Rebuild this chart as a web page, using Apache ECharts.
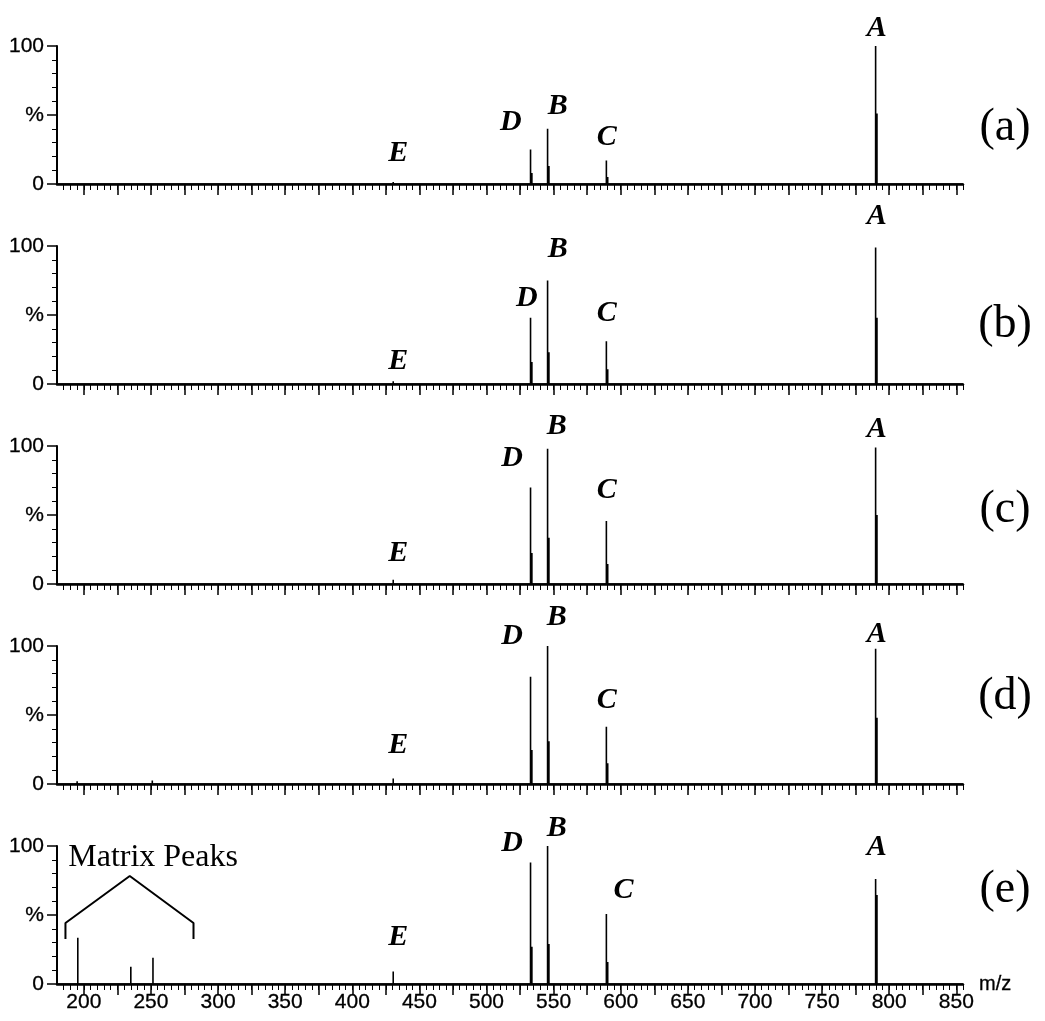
<!DOCTYPE html>
<html>
<head>
<meta charset="utf-8">
<script src="https://cdn.jsdelivr.net/npm/echarts@6/dist/echarts.min.js"></script>
<style>
html,body{margin:0;padding:0;background:#fff;}
#chart{width:1045px;height:1021px;}
</style>
</head>
<body>
<div id="chart"></div>
<script>
// ---- data (m/z, relative intensity %) ----
const panelNames = ['(a)', '(b)', '(c)', '(d)', '(e)'];
const mzMin = 180, mzMax = 855;
const majorTicks = [200,225,250,275,300,325,350,375,400,425,450,475,500,525,550,575,600,625,650,675,700,725,750,775,800,825,850];
const tickLabels = [200,250,300,350,400,450,500,550,600,650,700,750,800,850];
const yTickLabels = {0: '0', 50: '%', 100: '100'};

const peaksA = [[430.5,1.5],[532.8,25],[533.8,8],[545.5,40],[546.5,13],[589.3,17],[590.3,5],[789.9,100],[790.9,51]];
const peaksB = [[430.5,2],[532.8,48],[533.8,16],[545.5,75],[546.5,23],[589.3,31],[590.3,10.6],[789.9,99],[790.9,48]];
const peaksC = [[430.5,3],[532.8,70],[533.8,22.5],[545.5,98],[546.5,33.6],[589.3,45.7],[590.3,14.5],[789.9,99],[790.9,50]];
const peaksD = [[195,2],[251,2.5],[430.5,4],[532.8,77.8],[533.8,24.6],[545.5,100],[546.5,31],[589.3,41.5],[590.3,15],[789.9,98],[790.9,48]];
const peaksE = [[195.5,33.5],[235,12.5],[251.5,19],[430.5,9],[532.8,88],[533.8,27],[545.5,100],[546.5,29],[589.3,50.7],[590.3,16],[789.9,76],[790.9,64.5]];
const allPeaks = [peaksA, peaksB, peaksC, peaksD, peaksE];

// peak letter labels: [name, m/z, intensity position]
const labelsA = [['A',790.8,113],['B',553.1,56.5],['D',518.2,45],['C',589.5,34],['E',434.2,22.5]];
const labelsB = [['A',790.8,121.7],['B',553.1,97.8],['D',530.1,62.3],['C',589.5,51.4],['E',434.2,16.7]];
const labelsC = [['A',790.8,112.3],['B',552.4,114.5],['D',519,91.3],['C',589.5,68.1],['E',434.2,22.5]];
const labelsD = [['A',790.8,108.7],['B',552.4,121],['D',519,107.2],['C',589.5,60.9],['E',434.2,28.3]];
const labelsE = [['A',790.8,99.3],['B',552.4,113],['D',519,102.2],['C',602.1,68.1],['E',434.2,34.1]];
const allLabels = [labelsA, labelsB, labelsC, labelsD, labelsE];

// matrix peaks annotation (panel e)
const matrixText = ['Matrix Peaks', 251.6, 91.3];
const matrixBracket = [[186.3,32.6],[186.3,44.2],[234.2,78.3],[281.7,44.2],[281.7,32.6]];

const minorTicks = [];
for (let v = 185; v <= 855; v += 5) minorTicks.push(v);

// ---- layout ----
const gridLeft = 57, gridWidth = 906, gridTop0 = 46, gridStep = 200, gridHeight = 138;
const sideLabelY = [128, 325, 510, 697, 890];

const grids = [], xAxes = [], yAxes = [], series = [], graphics = [];
for (let i = 0; i < 5; i++) {
  const last = i === 4;
  grids.push({left: gridLeft, top: gridTop0 + gridStep * i, width: gridWidth, height: gridHeight});
  xAxes.push({
    type: 'value', gridIndex: i, min: mzMin, max: mzMax, position: 'bottom',
    axisLine: {show: true, onZero: false, lineStyle: {color: '#000', width: 2.5}},
    axisTick: {show: true, customValues: majorTicks, length: 11, lineStyle: {color: '#000', width: 1.5}},
    axisLabel: {show: last, customValues: tickLabels, margin: 8, color: '#000',
      fontFamily: 'Liberation Sans', fontSize: 21, textBorderColor: '#000', textBorderWidth: 0.3},
    splitLine: {show: false},
    name: last ? 'm/z' : '', nameLocation: 'end', nameGap: 16,
    nameTextStyle: {color: '#000', fontFamily: 'Liberation Sans', fontSize: 20, verticalAlign: 'middle',
      padding: [6, 0, 0, 0], textBorderColor: '#000', textBorderWidth: 0.3}
  });
  xAxes.push({
    type: 'value', gridIndex: i, min: mzMin, max: mzMax, position: 'bottom',
    axisLine: {show: false, onZero: false},
    axisTick: {show: true, inside: false, customValues: minorTicks, length: 6, lineStyle: {color: '#000', width: 1}},
    axisLabel: {show: false},
    splitLine: {show: false}
  });
  yAxes.push({
    type: 'value', gridIndex: i, min: 0, max: 100, interval: 50,
    axisLine: {show: true, lineStyle: {color: '#000', width: 2}},
    axisTick: {show: true, length: 10, lineStyle: {color: '#000', width: 1.5}},
    minorTick: {show: true, splitNumber: 5, length: 5, lineStyle: {color: '#000', width: 1}},
    axisLabel: {margin: 13, color: '#000', fontFamily: 'Liberation Sans', fontSize: 21,
      textBorderColor: '#000', textBorderWidth: 0.3,
      formatter: v => yTickLabels[v] !== undefined ? yTickLabels[v] : ''},
    splitLine: {show: false}
  });

  // stick spectrum built from peak list
  const pk = allPeaks[i].slice().sort((a, b) => a[0] - b[0]);
  const lineData = [[mzMin, 0]];
  pk.forEach(p => { lineData.push([p[0], 0], [p[0], p[1]], [p[0], 0]); });
  lineData.push([mzMax, 0]);
  series.push({
    type: 'line', xAxisIndex: 2 * i, yAxisIndex: i, data: lineData,
    symbol: 'none', animation: false, lineStyle: {color: '#000', width: 1.6}
  });

  graphics.push({
    type: 'text', x: 1005, y: sideLabelY[i],
    style: {text: panelNames[i], fill: '#000', font: '46px "Liberation Serif"',
      textAlign: 'center', textVerticalAlign: 'middle'}
  });
}

// matrix bracket on panel (e)
series.push({
  type: 'line', xAxisIndex: 8, yAxisIndex: 4, data: matrixBracket, clip: false,
  symbol: 'none', animation: false, lineStyle: {color: '#000', width: 2}
});

const chart = echarts.init(document.getElementById('chart'), null, {renderer: 'canvas'});
chart.setOption({
  backgroundColor: '#fff',
  animation: false,
  grid: grids, xAxis: xAxes, yAxis: yAxes, series: series, graphic: graphics
});

// text annotations positioned through the axes' scales
const extra = [];
allLabels.forEach((labs, i) => {
  labs.forEach(l => {
    const p = chart.convertToPixel({xAxisIndex: 2 * i, yAxisIndex: i}, [l[1], l[2]]);
    extra.push({
      type: 'text', x: p[0], y: p[1],
      style: {text: l[0], fill: '#000', font: 'italic bold 30px "Liberation Serif"',
        textAlign: 'center', textVerticalAlign: 'middle'}
    });
  });
});
const mp = chart.convertToPixel({xAxisIndex: 8, yAxisIndex: 4}, [matrixText[1], matrixText[2]]);
extra.push({
  type: 'text', x: mp[0], y: mp[1],
  style: {text: matrixText[0], fill: '#000', font: '32px "Liberation Serif"',
    textAlign: 'center', textVerticalAlign: 'middle'}
});
chart.setOption({graphic: graphics.concat(extra)});
</script>
</body>
</html>
